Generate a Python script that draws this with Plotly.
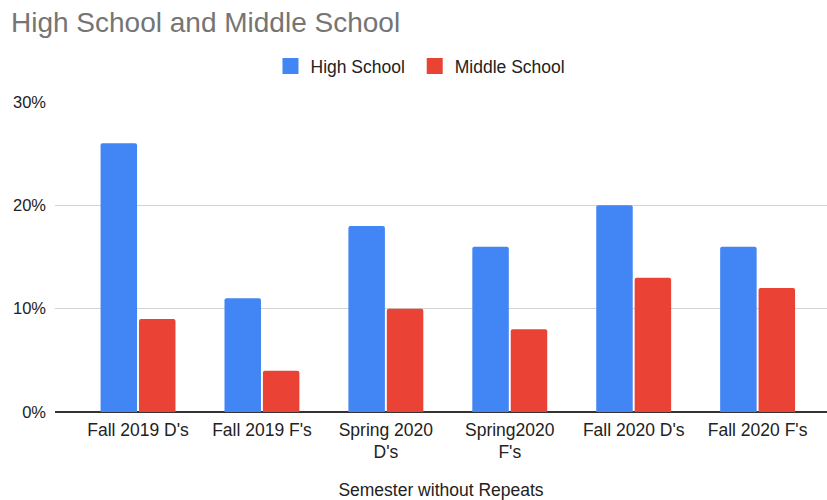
import plotly.graph_objects as go

categories = ["Fall 2019 D's", "Fall 2019 F's", "Spring 2020<br>D's", "Spring2020<br>F's",
              "Fall 2020 D's", "Fall 2020 F's"]
high_school = [26, 11, 18, 16, 20, 16]
middle_school = [9, 4, 10, 8, 13, 12]
series_names = ["High School", "Middle School"]
series_colors = ["#4285F4", "#EA4335"]
y_ticks = [0, 10, 20, 30]
y_tick_text = ["0%", "10%", "20%", "30%"]

FONT = "Arial, 'Liberation Sans', sans-serif"

fig = go.Figure()
for name, values, color in zip(series_names, [high_school, middle_school], series_colors):
    fig.add_trace(go.Bar(name=name, x=categories, y=values, showlegend=False,
                         legendgroup=name,
                         marker=dict(color=color, line=dict(width=0))))
# Legend entries with larger square swatches (a trailing no-break space widens the gap)
for name, color in zip(series_names, series_colors):
    fig.add_trace(go.Scatter(name=name + "\u00a0", x=[None], y=[None], mode="markers",
                             legendgroup=name,
                             marker=dict(symbol="square", size=16, color=color,
                                         line=dict(width=0))))

fig.update_layout(
    width=827, height=500,
    margin=dict(l=55, r=0, t=102, b=88),
    paper_bgcolor="white", plot_bgcolor="white",
    font=dict(family=FONT, size=17, color="#222222"),
    barmode="group", bargap=0.38, bargroupgap=0.05, barcornerradius=2,
    title=dict(text="High School and Middle School", x=11 / 827, xanchor="left",
               xref="container", y=1 - 22 / 500, yanchor="middle", yref="container",
               font=dict(size=28, color="#757575", family=FONT)),
    legend=dict(orientation="h", xref="container", yref="container",
                x=423 / 827, xanchor="center", y=1 - 66 / 500, yanchor="middle",
                font=dict(size=17.5, color="#222222"), itemwidth=30),
    showlegend=True,
)
fig.update_xaxes(range=[-0.67, 5.56], showgrid=False, ticks="", showline=False,
                 tickfont=dict(size=17.5, color="#222222"), ticklabelstandoff=5,
                 title=dict(text="Semester without Repeats", standoff=26,
                            font=dict(size=17.5, color="#222222")))
fig.update_yaxes(range=[0, 30], tickvals=y_ticks, ticktext=y_tick_text,
                 showgrid=True, gridcolor="#d4d4d4", gridwidth=1,
                 zeroline=True, zerolinecolor="#333333", zerolinewidth=1.5,
                 ticks="", ticklabelstandoff=8, tickfont=dict(size=16.5, color="#222222"))

fig.write_html("out.html")
